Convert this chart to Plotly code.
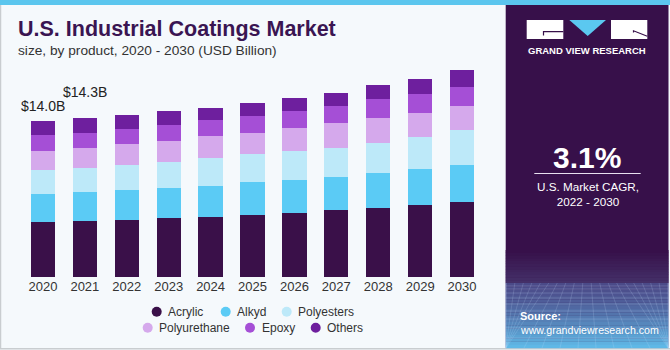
import plotly.graph_objects as go

# ---------------- data ----------------
years = ["2020", "2021", "2022", "2023", "2024", "2025", "2026", "2027", "2028", "2029", "2030"]
acrylic = [4.92, 5.01, 5.13, 5.28, 5.43, 5.61, 5.76, 6.06, 6.18, 6.51, 6.74]
alkyd = [2.55, 2.63, 2.67, 2.76, 2.75, 2.97, 2.94, 2.93, 3.15, 3.24, 3.36]
polyesters = [2.16, 2.19, 2.31, 2.30, 2.55, 2.48, 2.61, 2.64, 2.76, 2.81, 3.08]
polyurethane = [1.74, 1.76, 1.83, 1.86, 1.92, 1.86, 2.07, 2.19, 2.21, 2.19, 2.16]
epoxy = [1.38, 1.38, 1.38, 1.44, 1.44, 1.53, 1.53, 1.53, 1.74, 1.74, 1.71]
others = [1.26, 1.31, 1.26, 1.26, 1.14, 1.23, 1.23, 1.23, 1.20, 1.35, 1.56]
series_names = ["Acrylic", "Alkyd", "Polyesters", "Polyurethane", "Epoxy", "Others"]
series_values = [acrylic, alkyd, polyesters, polyurethane, epoxy, others]
series_colors = ["#3A1049", "#5BCBF5", "#BDE9F9", "#D5A9EC", "#A54FD6", "#6E1F9E"]
value_labels = ["$14.0B", "$14.3B"]
label_totals = [14.0, 14.3]

title_text = "U.S. Industrial Coatings Market"
subtitle_text = "size, by product, 2020 - 2030 (USD Billion)"
cagr_text = "3.1%"
cagr_sub = "U.S. Market CAGR,<br>2022 - 2030"

# ---------------- geometry ----------------
W, H = 670, 350
L, R, T, B = 22, 187, 55, 73
PW, PH = W - L - R, H - T - B
BOTTOM = H - B


def X(px):
    return (px - L) / PW


def Y(py):
    return (BOTTOM - py) / PH


fig = go.Figure()
for name, vals, col in zip(series_names, series_values, series_colors):
    fig.add_trace(go.Bar(x=years, y=vals, name=name, marker=dict(color=col, line=dict(width=0)),
                         showlegend=False, hoverinfo="x+y+name"))

shapes = []
annotations = []

# frame / background details
shapes.append(dict(type="rect", xref="paper", yref="paper", x0=X(0), x1=X(670), y0=Y(0), y1=Y(5),
                   fillcolor="#5BC6EE", line=dict(width=0), layer="below"))
shapes.append(dict(type="line", xref="paper", yref="paper", x0=X(0.5), x1=X(0.5), y0=Y(5), y1=Y(349),
                   line=dict(color="#C9CDD0", width=1.5), layer="below"))
shapes.append(dict(type="line", xref="paper", yref="paper", x0=X(0), x1=X(670), y0=Y(348.8), y1=Y(348.8),
                   line=dict(color="#C9CDD0", width=1.5), layer="below"))

# right panel
PX0, PX1 = 505.7, 668.5
shapes.append(dict(type="rect", xref="paper", yref="paper", x0=X(PX0), x1=X(PX1), y0=Y(5), y1=Y(348),
                   fillcolor="#37104A", line=dict(width=0)))


def lerp(c1, c2, t):
    a = [int(c1[i:i + 2], 16) for i in (1, 3, 5)]
    b = [int(c2[i:i + 2], 16) for i in (1, 3, 5)]
    return "#%02x%02x%02x" % tuple(round(a[k] + (b[k] - a[k]) * t) for k in range(3))


# gradient upper (sky)
n1 = 12
for i in range(n1):
    y0 = 250 + i * (283 - 250) / n1
    y1 = 250 + (i + 1) * (283 - 250) / n1
    shapes.append(dict(type="rect", xref="paper", yref="paper", x0=X(PX0), x1=X(PX1), y0=Y(y0), y1=Y(y1 + 0.3),
                       fillcolor=lerp("#37104A", "#443068", i / (n1 - 1)), line=dict(width=0)))
# gradient lower (grid floor)
n2 = 20
for i in range(n2):
    y0 = 283 + i * (348 - 283) / n2
    y1 = 283 + (i + 1) * (348 - 283) / n2
    shapes.append(dict(type="rect", xref="paper", yref="paper", x0=X(PX0), x1=X(PX1), y0=Y(y0), y1=Y(y1 + 0.3),
                       fillcolor=lerp("#4B4A88", "#5FB8E6", (i / (n2 - 1)) ** 1.3), line=dict(width=0)))
# perspective grid lines
for gy in [286, 289, 293, 298, 304, 311, 319, 328, 338]:
    shapes.append(dict(type="line", xref="paper", yref="paper", x0=X(PX0), x1=X(PX1), y0=Y(gy), y1=Y(gy),
                       line=dict(color="rgba(200,225,255,0.28)", width=0.8)))
vx, vy = 587, 225
for bx in range(380, 800, 18):
    t0 = (283 - vy) / (348 - vy)
    sx = vx + (bx - vx) * t0
    shapes.append(dict(type="line", xref="paper", yref="paper",
                       x0=X(max(min(sx, PX1), PX0)), y0=Y(283),
                       x1=X(max(min(bx, PX1), PX0)), y1=Y(348),
                       line=dict(color="rgba(200,225,255,0.22)", width=0.8)))

# logo
shapes.append(dict(type="rect", xref="paper", yref="paper", x0=X(526.7), x1=X(563.3), y0=Y(20), y1=Y(39),
                   fillcolor="white", line=dict(width=0)))
shapes.append(dict(type="path", xref="paper", yref="paper",
                   path="M %f,%f L %f,%f L %f,%f" % (X(563.3), Y(31.7), X(543.5), Y(31.7), X(543.5), Y(35.5)),
                   line=dict(color="#37104A", width=1.2)))
shapes.append(dict(type="path", xref="paper", yref="paper",
                   path="M %f,%f L %f,%f L %f,%f Z" % (X(569.3), Y(20), X(606), Y(20), X(587.7), Y(36)),
                   fillcolor="#5BC8F0", line=dict(width=0)))
shapes.append(dict(type="rect", xref="paper", yref="paper", x0=X(611), x1=X(647.3), y0=Y(20), y1=Y(39),
                   fillcolor="white", line=dict(width=0)))
shapes.append(dict(type="path", xref="paper", yref="paper",
                   path="M %f,%f L %f,%f L %f,%f" % (X(633.5), Y(32.5), X(633.5), Y(30.8), X(647.3), Y(36.3)),
                   line=dict(color="#37104A", width=1.2)))
annotations.append(dict(xref="paper", yref="paper", x=X(587), y=Y(51), text="<b>GRAND VIEW RESEARCH</b>",
                        showarrow=False, xanchor="center", yanchor="middle",
                        font=dict(family="Liberation Sans, Arial", size=9.5, color="white")))

# CAGR
annotations.append(dict(xref="paper", yref="paper", x=X(587), y=Y(157), text="<b>%s</b>" % cagr_text,
                        showarrow=False, xanchor="center", yanchor="middle",
                        font=dict(family="Liberation Sans, Arial", size=30, color="white")))
shapes.append(dict(type="line", xref="paper", yref="paper", x0=X(534.3), x1=X(640.7), y0=Y(173.5), y1=Y(173.5),
                   line=dict(color="#E8E0F0", width=1.2)))
annotations.append(dict(xref="paper", yref="paper", x=X(587.5), y=Y(194), text=cagr_sub,
                        showarrow=False, xanchor="center", yanchor="middle",
                        font=dict(family="Liberation Sans, Arial", size=11.7, color="white")))
# source
annotations.append(dict(xref="paper", yref="paper", x=X(517.5), y=Y(316), text="<b>Source:</b>",
                        showarrow=False, xanchor="left", yanchor="middle",
                        font=dict(family="Liberation Sans, Arial", size=11, color="white")))
annotations.append(dict(xref="paper", yref="paper", x=X(517.5), y=Y(330), text="www.grandviewresearch.com",
                        showarrow=False, xanchor="left", yanchor="middle",
                        font=dict(family="Liberation Sans, Arial", size=10.6, color="white")))

# title & subtitle
annotations.append(dict(xref="paper", yref="paper", x=X(16), y=Y(29.5), text="<b>%s</b>" % title_text,
                        showarrow=False, xanchor="left", yanchor="middle",
                        font=dict(family="Liberation Sans, Arial", size=21.5, color="#3A1552")))
annotations.append(dict(xref="paper", yref="paper", x=X(16), y=Y(50), text=subtitle_text,
                        showarrow=False, xanchor="left", yanchor="middle",
                        font=dict(family="Liberation Sans, Arial", size=13.7, color="#333333")))

# value labels (category index positions)
shifts = [15.5, 26.0]
for i, (txt, tot) in enumerate(zip(value_labels, label_totals)):
    annotations.append(dict(xref="x", yref="y", x=i, y=tot, text=txt, showarrow=False,
                            xanchor="center", yanchor="middle", yshift=shifts[i],
                            font=dict(family="Liberation Sans, Arial", size=14, color="#222222")))

# manual legend
legend_pos = [(156.7, 311.7), (225.7, 311.7), (286.7, 311.7),
              (147.7, 327.7), (250.0, 327.7), (315.7, 327.7)]
for (mx, my), name, col in zip(legend_pos, series_names, series_colors):
    shapes.append(dict(type="circle", xref="paper", yref="paper",
                       x0=X(mx - 5), x1=X(mx + 5), y0=Y(my - 5), y1=Y(my + 5),
                       fillcolor=col, line=dict(width=0)))
    annotations.append(dict(xref="paper", yref="paper", x=X(mx + 9.5), y=Y(my), text=name, showarrow=False,
                            xanchor="left", yanchor="middle",
                            font=dict(family="Liberation Sans, Arial", size=12, color="#333333")))

fig.update_layout(
    width=W, height=H,
    margin=dict(l=L, r=R, t=T, b=B, autoexpand=False),
    barmode="stack", bargap=0.42,
    paper_bgcolor="#F5F9FC", plot_bgcolor="rgba(0,0,0,0)",
    showlegend=False,
    shapes=shapes, annotations=annotations,
    xaxis=dict(type="category", showgrid=False, zeroline=False, showline=False, ticks="",
               tickfont=dict(family="Liberation Sans, Arial", size=13, color="#333333"),
               range=[-0.5, 10.5]),
    yaxis=dict(range=[0, PH / 11.12], visible=False, showgrid=False, zeroline=False),
)

fig.write_html("out.html")
